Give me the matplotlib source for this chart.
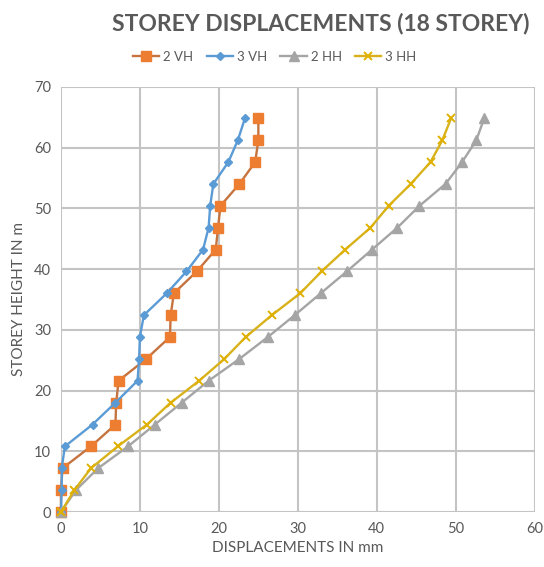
import matplotlib.pyplot as plt

plt.rcParams['font.family'] = ['Lato', 'DejaVu Sans']

# storey heights (3.6 m per storey, 18 storeys)
height = [0, 3.6, 7.2, 10.8, 14.4, 18, 21.6, 25.2, 28.8, 32.4, 36, 39.6,
          43.2, 46.8, 50.4, 54, 57.6, 61.2, 64.8]

# displacements in mm
vh2 = [0, 0.0, 0.2, 3.8, 6.9, 7.0, 7.3, 10.8, 13.8, 13.9, 14.3, 17.2,
       19.6, 19.9, 20.2, 22.6, 24.6, 25.0, 25.0]
vh3 = [0, 0.1, 0.1, 0.5, 4.0, 6.9, 9.7, 9.9, 10.0, 10.5, 13.4, 15.9,
       18.0, 18.7, 18.9, 19.3, 21.2, 22.4, 23.3]
hh2 = [0, 1.9, 4.7, 8.5, 11.9, 15.3, 18.7, 22.6, 26.2, 29.6, 32.9, 36.2,
       39.4, 42.6, 45.4, 48.7, 50.8, 52.6, 53.6]
hh3 = [0, 1.7, 3.8, 7.2, 10.9, 13.9, 17.5, 20.7, 23.4, 26.7, 30.3, 33.0,
       36.0, 39.2, 41.5, 44.3, 46.8, 48.3, 49.4]

labels = ['2 VH', '3 VH', '2 HH', '3 HH']
xticks = [0, 10, 20, 30, 40, 50, 60]
yticks = [0, 10, 20, 30, 40, 50, 60, 70]

txt = '#595959'
grid = '#C4C4C4'

fig = plt.figure(figsize=(5.44, 5.67), dpi=100)
ax = fig.add_axes([0.112, 0.097, 0.871, 0.75])

ax.plot(vh2, height, color='#C5733F', lw=1.7, marker='s', ms=7,
        mfc='#ED7D31', mec='#ED7D31', label=labels[0], clip_on=False)
ax.plot(vh3, height, color='#5B9BD5', lw=1.7, marker='D', ms=4.5,
        mfc='#5B9BD5', mec='#5B9BD5', label=labels[1], clip_on=False)
ax.plot(hh2, height, color='#A5A5A5', lw=1.7, marker='^', ms=6.5,
        mfc='#A5A5A5', mec='#A5A5A5', label=labels[2], clip_on=False)
ax.plot(hh3, height, color='#D8B21A', lw=1.7, marker='x', ms=6,
        mew=1.4, mec='#E0B000', label=labels[3], clip_on=False)

ax.set_xlim(0, 60)
ax.set_ylim(0, 70)
ax.set_xticks(xticks)
ax.set_yticks(yticks)
ax.grid(True, color=grid, lw=1.5)
ax.set_axisbelow(True)
for s in ax.spines.values():
    s.set_visible(False)
ax.tick_params(length=0, labelsize=10.5, colors=txt, pad=7)

ax.set_xlabel('DISPLACEMENTS IN mm', fontsize=11, color=txt, labelpad=4)
ax.set_ylabel('STOREY HEIGHT IN m', fontsize=11, color=txt, labelpad=6)

fig.text(0.59, 0.958, 'STOREY DISPLACEMENTS (18 STOREY)', ha='center',
         va='center', fontsize=16.5, fontweight='bold', color=txt)

fig.legend(loc='center', bbox_to_anchor=(0.505, 0.9), ncol=4, frameon=False,
           fontsize=9.5, labelcolor=txt, handlelength=2.0, handletextpad=0.3,
           columnspacing=1.0)

fig.savefig('out.png', dpi=100)
